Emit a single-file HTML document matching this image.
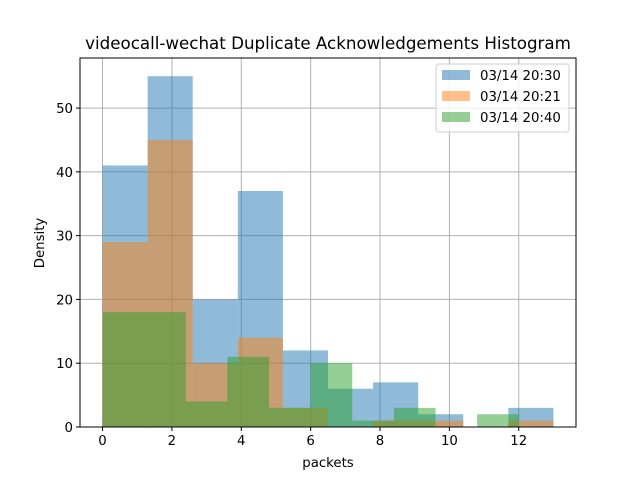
<!DOCTYPE html>
<html><head><meta charset="utf-8"><style>body{margin:0;background:#fff}svg{display:block;font-family:"DejaVu Sans","Liberation Sans",sans-serif}</style></head>
<body>
<svg id="chart" width="640" height="480"></svg>
<script>
const blueEdges=[0,1.3,2.6,3.9,5.2,6.5,7.8,9.1,10.4,11.7,13];
const blueVals=[41,55,20,37,12,6,7,2,0,3];
const orangeEdges=[0,1.3,2.6,3.9,5.2,6.5,7.8,9.1,10.4,11.7,13];
const orangeVals=[29,45,10,14,3,0,1,1,0,1];
const greenEdges=[0,1.2,2.4,3.6,4.8,6,7.2,8.4,9.6,10.8,12];
const greenVals=[18,18,4,11,3,10,1,3,0,2];
const xTicks=[0,2,4,6,8,10,12];
const yTicks=[0,10,20,30,40,50];
const legendLabels=["03/14 20:30","03/14 20:21","03/14 20:40"];
const colors=["#1f77b4","#ff7f0e","#2ca02c"];
const L=80,R=576,T=58,B=427;
const xMin=-0.65,xMax=13.65,yMax=57.85;
const X=v=>L+(v-xMin)/(xMax-xMin)*(R-L);
const Y=v=>B-v/yMax*(B-T);
const svg=document.getElementById('chart');
const NS="http://www.w3.org/2000/svg";
function mk(t,a,p){const e=document.createElementNS(NS,t);for(const k in a)e.setAttribute(k,a[k]);(p||svg).appendChild(e);return e;}
xTicks.forEach(v=>{const g=mk('line',{x1:X(v),x2:X(v),y1:T,y2:B,stroke:'#b0b0b0','stroke-width':1});

});
yTicks.forEach(v=>{const g=mk('line',{x1:L,x2:R,y1:Y(v),y2:Y(v),stroke:'#b0b0b0','stroke-width':1});

});
const series=[[blueEdges,blueVals],[orangeEdges,orangeVals],[greenEdges,greenVals]];
series.forEach((s,si)=>{const [ed,vals]=s;vals.forEach((v,i)=>{if(v<=0)return;
const r=mk('rect',{x:X(ed[i]),y:Y(v),width:X(ed[i+1])-X(ed[i]),height:Y(0)-Y(v),fill:colors[si],'fill-opacity':0.5});

});});
const fr=mk('rect',{x:L,y:T,width:R-L,height:B-T,fill:'none',stroke:'#000','stroke-width':1});


xTicks.forEach(v=>{mk('line',{x1:X(v),x2:X(v),y1:B,y2:B+4,stroke:'#000'});
const t=mk('text',{x:X(v),y:B+18,'text-anchor':'middle','font-size':13.3});t.textContent=v;

});
yTicks.forEach(v=>{mk('line',{x1:L-4,x2:L,y1:Y(v),y2:Y(v),stroke:'#000'});
const t=mk('text',{x:L-7,y:Y(v)+5,'text-anchor':'end','font-size':13.3});t.textContent=v;

});
let t=mk('text',{x:328,y:467,'text-anchor':'middle','font-size':13.3});t.textContent='packets';


t=mk('text',{x:44,y:243,'text-anchor':'middle','font-size':13.3,transform:'rotate(-90 44 243)'});t.textContent='Density';


t=mk('text',{x:328,y:49,'text-anchor':'middle','font-size':16.7});t.textContent='videocall-wechat Duplicate Acknowledgements Histogram';


const lg=mk('rect',{x:436,y:64,width:133,height:68,rx:3,fill:'#fff','fill-opacity':0.8,stroke:'#ccc'});


legendLabels.forEach((lab,i)=>{const y=70+i*21;
const r=mk('rect',{x:442,y:y,width:28,height:10,fill:colors[i],'fill-opacity':0.5});


const tx=mk('text',{x:480,y:y+10,'font-size':13.3});tx.textContent=lab;

});
</script>
</body></html>
